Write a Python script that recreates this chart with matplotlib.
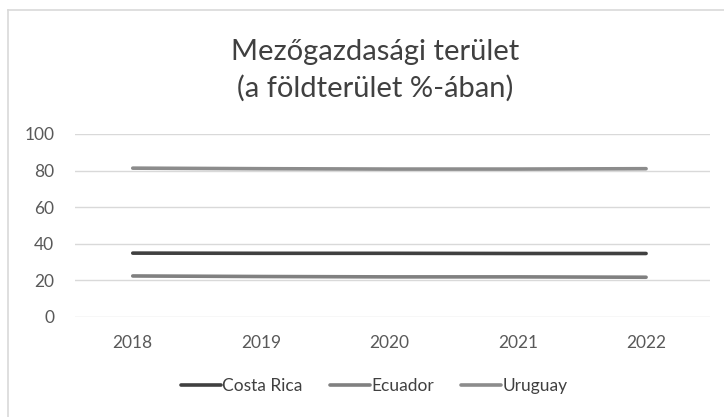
import matplotlib.pyplot as plt
from matplotlib.lines import Line2D

plt.rcParams['font.family'] = ['Lato', 'DejaVu Sans']

# Data
years = ["2018", "2019", "2020", "2021", "2022"]
costa_rica = [34.8, 34.7, 34.7, 34.6, 34.6]
ecuador = [22.3, 22.0, 21.8, 21.8, 21.6]
uruguay = [81.3, 81.0, 80.8, 80.8, 81.0]

fig = plt.figure(figsize=(7.24, 4.17), dpi=100)
ax = fig.add_axes([0.1036, 0.2405, 0.8774, 0.4382])

x = range(len(years))
ax.plot(x, costa_rica, color="#404040", lw=2.6, solid_capstyle="round", label="Costa Rica")
ax.plot(x, ecuador, color="#808080", lw=2.6, solid_capstyle="round", label="Ecuador")
ax.plot(x, uruguay, color="#8c8c8c", lw=2.6, solid_capstyle="round", label="Uruguay")

ax.set_ylim(0, 100)
ax.set_xlim(-0.45, 4.5)
ax.set_yticks(range(0, 101, 20))
ax.set_xticks(list(x))
ax.set_xticklabels(years)
ax.yaxis.grid(True, color="#d9d9d9", lw=1)
ax.set_axisbelow(True)
for s in ax.spines.values():
    s.set_visible(False)
ax.tick_params(length=0, labelsize=12.5, labelcolor="#595959")
ax.tick_params(axis="x", pad=13)
ax.tick_params(axis="y", pad=15)

fig.text(0.518, 0.832, "Mezőgazdasági terület\n(a földterület %-ában)",
         ha="center", va="center", fontsize=21, color="#404040", linespacing=1.45)

ax.legend(loc="center", bbox_to_anchor=(0.517, 0.075), bbox_transform=fig.transFigure,
          ncol=3, frameon=False, fontsize=12.5, labelcolor="#404040",
          handlelength=2.3, handletextpad=0.05, columnspacing=1.6)

# chart border (top and left visible)
fig.add_artist(Line2D([0.011, 1.0], [0.976, 0.976], transform=fig.transFigure, color="#d9d9d9", lw=1.2))
fig.add_artist(Line2D([0.011, 0.011], [0.0, 0.976], transform=fig.transFigure, color="#d9d9d9", lw=1.2))

fig.savefig("out.png", dpi=100)
